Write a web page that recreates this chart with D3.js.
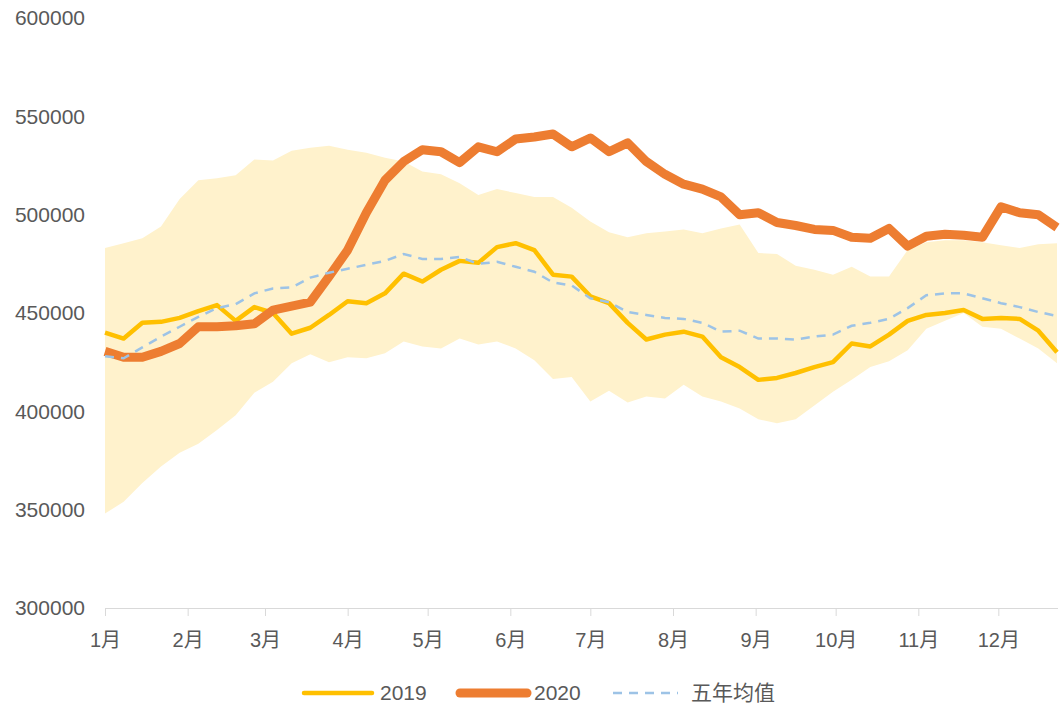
<!DOCTYPE html>
<html>
<head>
<meta charset="utf-8">
<script src="https://cdn.jsdelivr.net/npm/d3@7"></script>
<style>
  body { margin: 0; background: #fff; }
  text { font-family: "Liberation Sans", "Noto Sans CJK SC", sans-serif; fill: #595959; }
</style>
</head>
<body>
<div id="graph"></div>
<script>
// weekly values
var bandHigh = [483000, 485500, 488000, 494000, 508000, 517500, 518500, 520000, 528000, 527500, 532500, 534000, 535000, 533000, 531500, 529000, 527000, 522000,
	520500, 516000, 510000, 513000, 511000, 509000, 509000, 503500, 496500, 491000, 488500, 490500, 491500, 492500, 490500, 493000, 495000,
	480500, 480000, 474000, 472000, 469500, 473500, 468500, 468500, 482000, 486000, 487000, 487000, 486000, 484500, 483000, 485000, 485500];
var bandLow = [348000, 354000, 363500, 372000, 379000, 383500, 390500, 398000, 409500, 415000, 424500, 429000, 425000, 427500, 427000, 429500, 435500, 433000,
	432000, 437000, 434000, 435500, 432000, 426000, 416500, 417500, 405000, 410500, 404500, 407500, 406500, 413500, 407500, 405000, 401500,
	396000, 394000, 396000, 403000, 410000, 416000, 422500, 425500, 431000, 442000, 446000, 450000, 443000, 442000, 437000, 432000, 424500];
var y2019 = [440000, 437000, 445000, 445500, 447500, 451000, 454000, 446000, 453000, 450000, 439500, 442500, 449000, 456000, 455000, 460000, 470000, 466000,
	472000, 476500, 475500, 483500, 485500, 482000, 469500, 468500, 458500, 455000, 445000, 436500, 439000, 440500, 438000, 427500, 422500,
	416000, 417000, 419500, 422500, 425000, 434500, 433000, 439000, 446000, 449000, 450000, 451500, 447000, 447500, 447000, 441000, 430000];
var y2020 = [430500, 427500, 427500, 430500, 434500, 443000, 443000, 443500, 444500, 451500, 453500, 455500, 468500, 482000, 501000, 517500, 527000, 533000,
	532000, 526500, 534500, 532000, 538500, 539500, 541000, 534500, 539000, 532000, 536500, 527000, 520500, 515500, 513000, 509000, 500000,
	501000, 496000, 494500, 492500, 492000, 488500, 488000, 493000, 484000, 489000, 490000, 489500, 488500, 504000, 501000, 500000, 493500];
var avg5 = [428000, 427000, 432500, 438000, 443000, 448000, 452500, 454500, 460000, 462500, 463000, 468000, 470500, 472500, 474500, 476500, 480000, 477500,
	477500, 478500, 475000, 476000, 473500, 471000, 465500, 464000, 457500, 455500, 450500, 449000, 447500, 447000, 445000, 440500, 441000,
	437000, 437000, 436500, 438000, 439000, 443500, 445000, 447000, 452500, 459000, 460000, 460000, 457500, 455000, 453000, 450500, 448500];
var yTicks = [300000, 350000, 400000, 450000, 500000, 550000, 600000];
var legendNames = ['2019', '2020', '五年均值'];

var width = 1060, height = 711;
var start = new Date(2020, 0, 1);
var weeks = d3.range(bandHigh.length).map(i => d3.timeDay.offset(start, 7 * i));

var svg = d3.select('#graph')
			.append('svg')
			.attr('width', width)
			.attr('height', height);

var x = d3.scaleTime().domain([start, weeks[weeks.length - 1]]).range([105, 1057]);
var y = d3.scaleLinear().domain([300000, 600000]).range([608, 18]);

// min-max band
var band = d3.area()
	.x((d, i) => x(weeks[i]))
	.y0((d, i) => y(bandLow[i]))
	.y1(d => y(d));
svg.append('path').datum(bandHigh)
	.attr('d', band)
	.attr('fill', '#FFF2CC');

// x axis
var xAxis = d3.axisBottom(x)
	.ticks(d3.timeMonth.every(1))
	.tickFormat(d => (d.getMonth() + 1) + '月')
	.tickSize(8)
	.tickSizeOuter(0)
	.tickPadding(17);
var gx = svg.append('g')
	.attr('transform', 'translate(0,608)')
	.call(xAxis);
gx.select('.domain').attr('stroke', '#D9D9D9').attr('d', 'M105,0.5H1058');
gx.selectAll('.tick line').attr('stroke', '#D9D9D9');
gx.selectAll('.tick text').attr('font-size', '20px').style('fill', '#595959');

// y labels only
svg.append('g').selectAll('text')
	.data(yTicks)
	.enter().append('text')
	.attr('x', 85)
	.attr('y', d => y(d))
	.attr('dy', '0.35em')
	.attr('text-anchor', 'end')
	.attr('font-size', '21px')
	.text(d => d);

var line = d3.line().x((d, i) => x(weeks[i])).y(d => y(d));

svg.append('path').datum(y2019)
	.attr('d', line)
	.attr('fill', 'none')
	.attr('stroke', '#FFC000')
	.attr('stroke-width', 4.5)
	.attr('stroke-linejoin', 'round');

svg.append('path').datum(y2020)
	.attr('d', line)
	.attr('fill', 'none')
	.attr('stroke', '#ED7D31')
	.attr('stroke-width', 9)
	.attr('stroke-linejoin', 'round');

svg.append('path').datum(avg5)
	.attr('d', line)
	.attr('fill', 'none')
	.attr('stroke', '#9DC3E6')
	.attr('stroke-width', 2.5)
	.attr('stroke-dasharray', '9,7');

// legend
var leg = [
	{x1: 304, x2: 372, tx: 380, color: '#FFC000', w: 4.5, dash: null, cap: 'round'},
	{x1: 460, x2: 527, tx: 534, color: '#ED7D31', w: 9, dash: null, cap: 'round'},
	{x1: 613, x2: 678, tx: 691, color: '#9DC3E6', w: 2.5, dash: '9,7', cap: 'butt'}
];
var lg = svg.append('g').selectAll('g')
	.data(leg)
	.enter().append('g');
lg.append('line')
	.attr('x1', d => d.x1).attr('x2', d => d.x2)
	.attr('y1', 693).attr('y2', 693)
	.attr('stroke', d => d.color)
	.attr('stroke-width', d => d.w)
	.attr('stroke-linecap', d => d.cap)
	.attr('stroke-dasharray', d => d.dash);
lg.append('text')
	.attr('x', d => d.tx)
	.attr('y', 693)
	.attr('dy', '0.35em')
	.attr('font-size', '21px')
	.text((d, i) => legendNames[i]);
</script>
</body>
</html>
